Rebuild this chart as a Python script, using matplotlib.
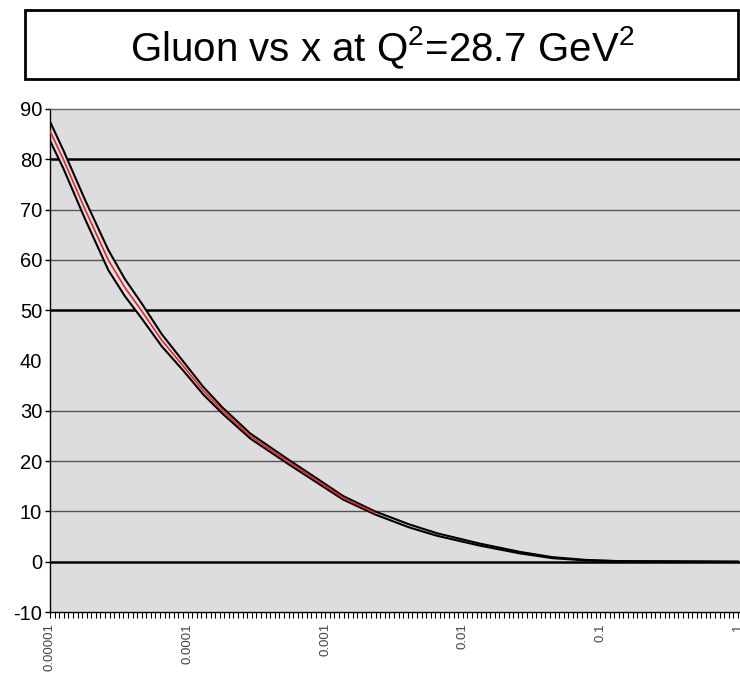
import numpy as np
import matplotlib.pyplot as plt
from matplotlib.patches import Rectangle
from matplotlib.ticker import FixedLocator, NullFormatter

plt.rcParams['font.family'] = ['Liberation Sans', 'DejaVu Sans']
plt.rcParams['axes.unicode_minus'] = False
plt.rcParams['mathtext.fontset'] = 'custom'
plt.rcParams['mathtext.rm'] = 'Liberation Sans'
plt.rcParams['mathtext.default'] = 'regular'

# Gluon distribution vs x, central value and half-width of the error band
x_vals = np.array([1.0e-5, 1.25e-5, 1.8e-5, 2.65e-5, 3.5e-5, 4.6e-5, 6.5e-5, 9.3e-5,
                   1.3e-4, 1.8e-4, 2.85e-4, 5.3e-4, 9.2e-4, 1.35e-3, 2.3e-3, 4.1e-3,
                   6.5e-3, 1.33e-2, 2.6e-2, 4.5e-2, 7.9e-2, 0.14, 1.0])
gluon = np.array([85.6, 80.0, 70.0, 60.0, 54.5, 50.0, 44.0, 38.9,
                  34.0, 30.0, 25.0, 20.0, 15.7, 12.7, 9.7, 7.1,
                  5.4, 3.4, 1.8, 0.8, 0.3, 0.1, 0.0])
band = np.array([1.9, 1.8, 1.9, 2.0, 1.7, 1.5, 1.2, 0.9,
                 0.75, 0.6, 0.5, 0.45, 0.4, 0.35, 0.3, 0.3,
                 0.25, 0.2, 0.15, 0.1, 0.05, 0.0, 0.0])
n_central = 15  # central curve shown up to x = 2.3e-3

y_ticks = list(range(-10, 91, 10))
x_ticks = [1e-5, 1e-4, 1e-3, 1e-2, 1e-1, 1.0]
x_tick_labels = ['0.00001', '0.0001', '0.001', '0.01', '0.1', '1']
heavy_lines = [80, 50, 0]
light_lines = [70, 60, 30, 20, 10]

W, H = 740, 673
fig = plt.figure(figsize=(W / 100, H / 100), dpi=100)

# title box
fig.patches.append(Rectangle((25 / W, 1 - 79 / H), 713 / W, 69 / H, transform=fig.transFigure,
                             fill=False, ec='black', lw=2.0))
fig.text(382 / W, 1 - 61 / H, 'Gluon vs x at Q$^{2}$=28.7 GeV$^{2}$',
         ha='center', va='baseline', fontsize=29, color='black')

ax = fig.add_axes([50 / W, 1 - 612 / H, 690 / W, 503 / H])
ax.set_facecolor('#dddddd')
ax.set_xscale('log')
ax.set_xlim(1e-5, 10 ** 0.0145)
ax.set_ylim(-10, 90)

for lvl in light_lines:
    ax.axhline(lvl, color='#555555', lw=1.0, zorder=1)
for lvl in heavy_lines:
    ax.axhline(lvl, color='black', lw=1.8, zorder=1)

upper = gluon + band
lower = gluon - band
ax.fill_between(x_vals[:n_central], lower[:n_central], upper[:n_central],
                color='#e6e0e0', lw=0, zorder=2)
ax.plot(x_vals, upper, color='black', lw=1.5, zorder=3)
ax.plot(x_vals, lower, color='black', lw=1.5, zorder=3)
ax.plot(x_vals[:n_central], gluon[:n_central], color='#e3242b', lw=1.2, zorder=4)

# axes frame
ax.spines['right'].set_visible(False)
ax.spines['top'].set_color('#666666')
ax.spines['top'].set_linewidth(1.0)
ax.spines['left'].set_linewidth(1.0)
ax.spines['bottom'].set_linewidth(1.0)

ax.set_yticks(y_ticks)
ax.set_yticklabels([str(v) for v in y_ticks])
ax.tick_params(axis='y', direction='out', length=3.6, width=1.0, labelsize=14.5, pad=2)
ax.yaxis.get_major_ticks()[5].tick1line.set_visible(False)

ax.xaxis.set_major_locator(FixedLocator(x_ticks))
ax.set_xticklabels(x_tick_labels, rotation=90, fontsize=9.5, color='#444444')
ax.xaxis.set_minor_locator(FixedLocator(10 ** np.arange(-5, 0.01, 1 / 30)))
ax.xaxis.set_minor_formatter(NullFormatter())
ax.tick_params(axis='x', which='both', direction='out', length=4.0, width=0.8, pad=4)

fig.savefig('out.png', dpi=100)
